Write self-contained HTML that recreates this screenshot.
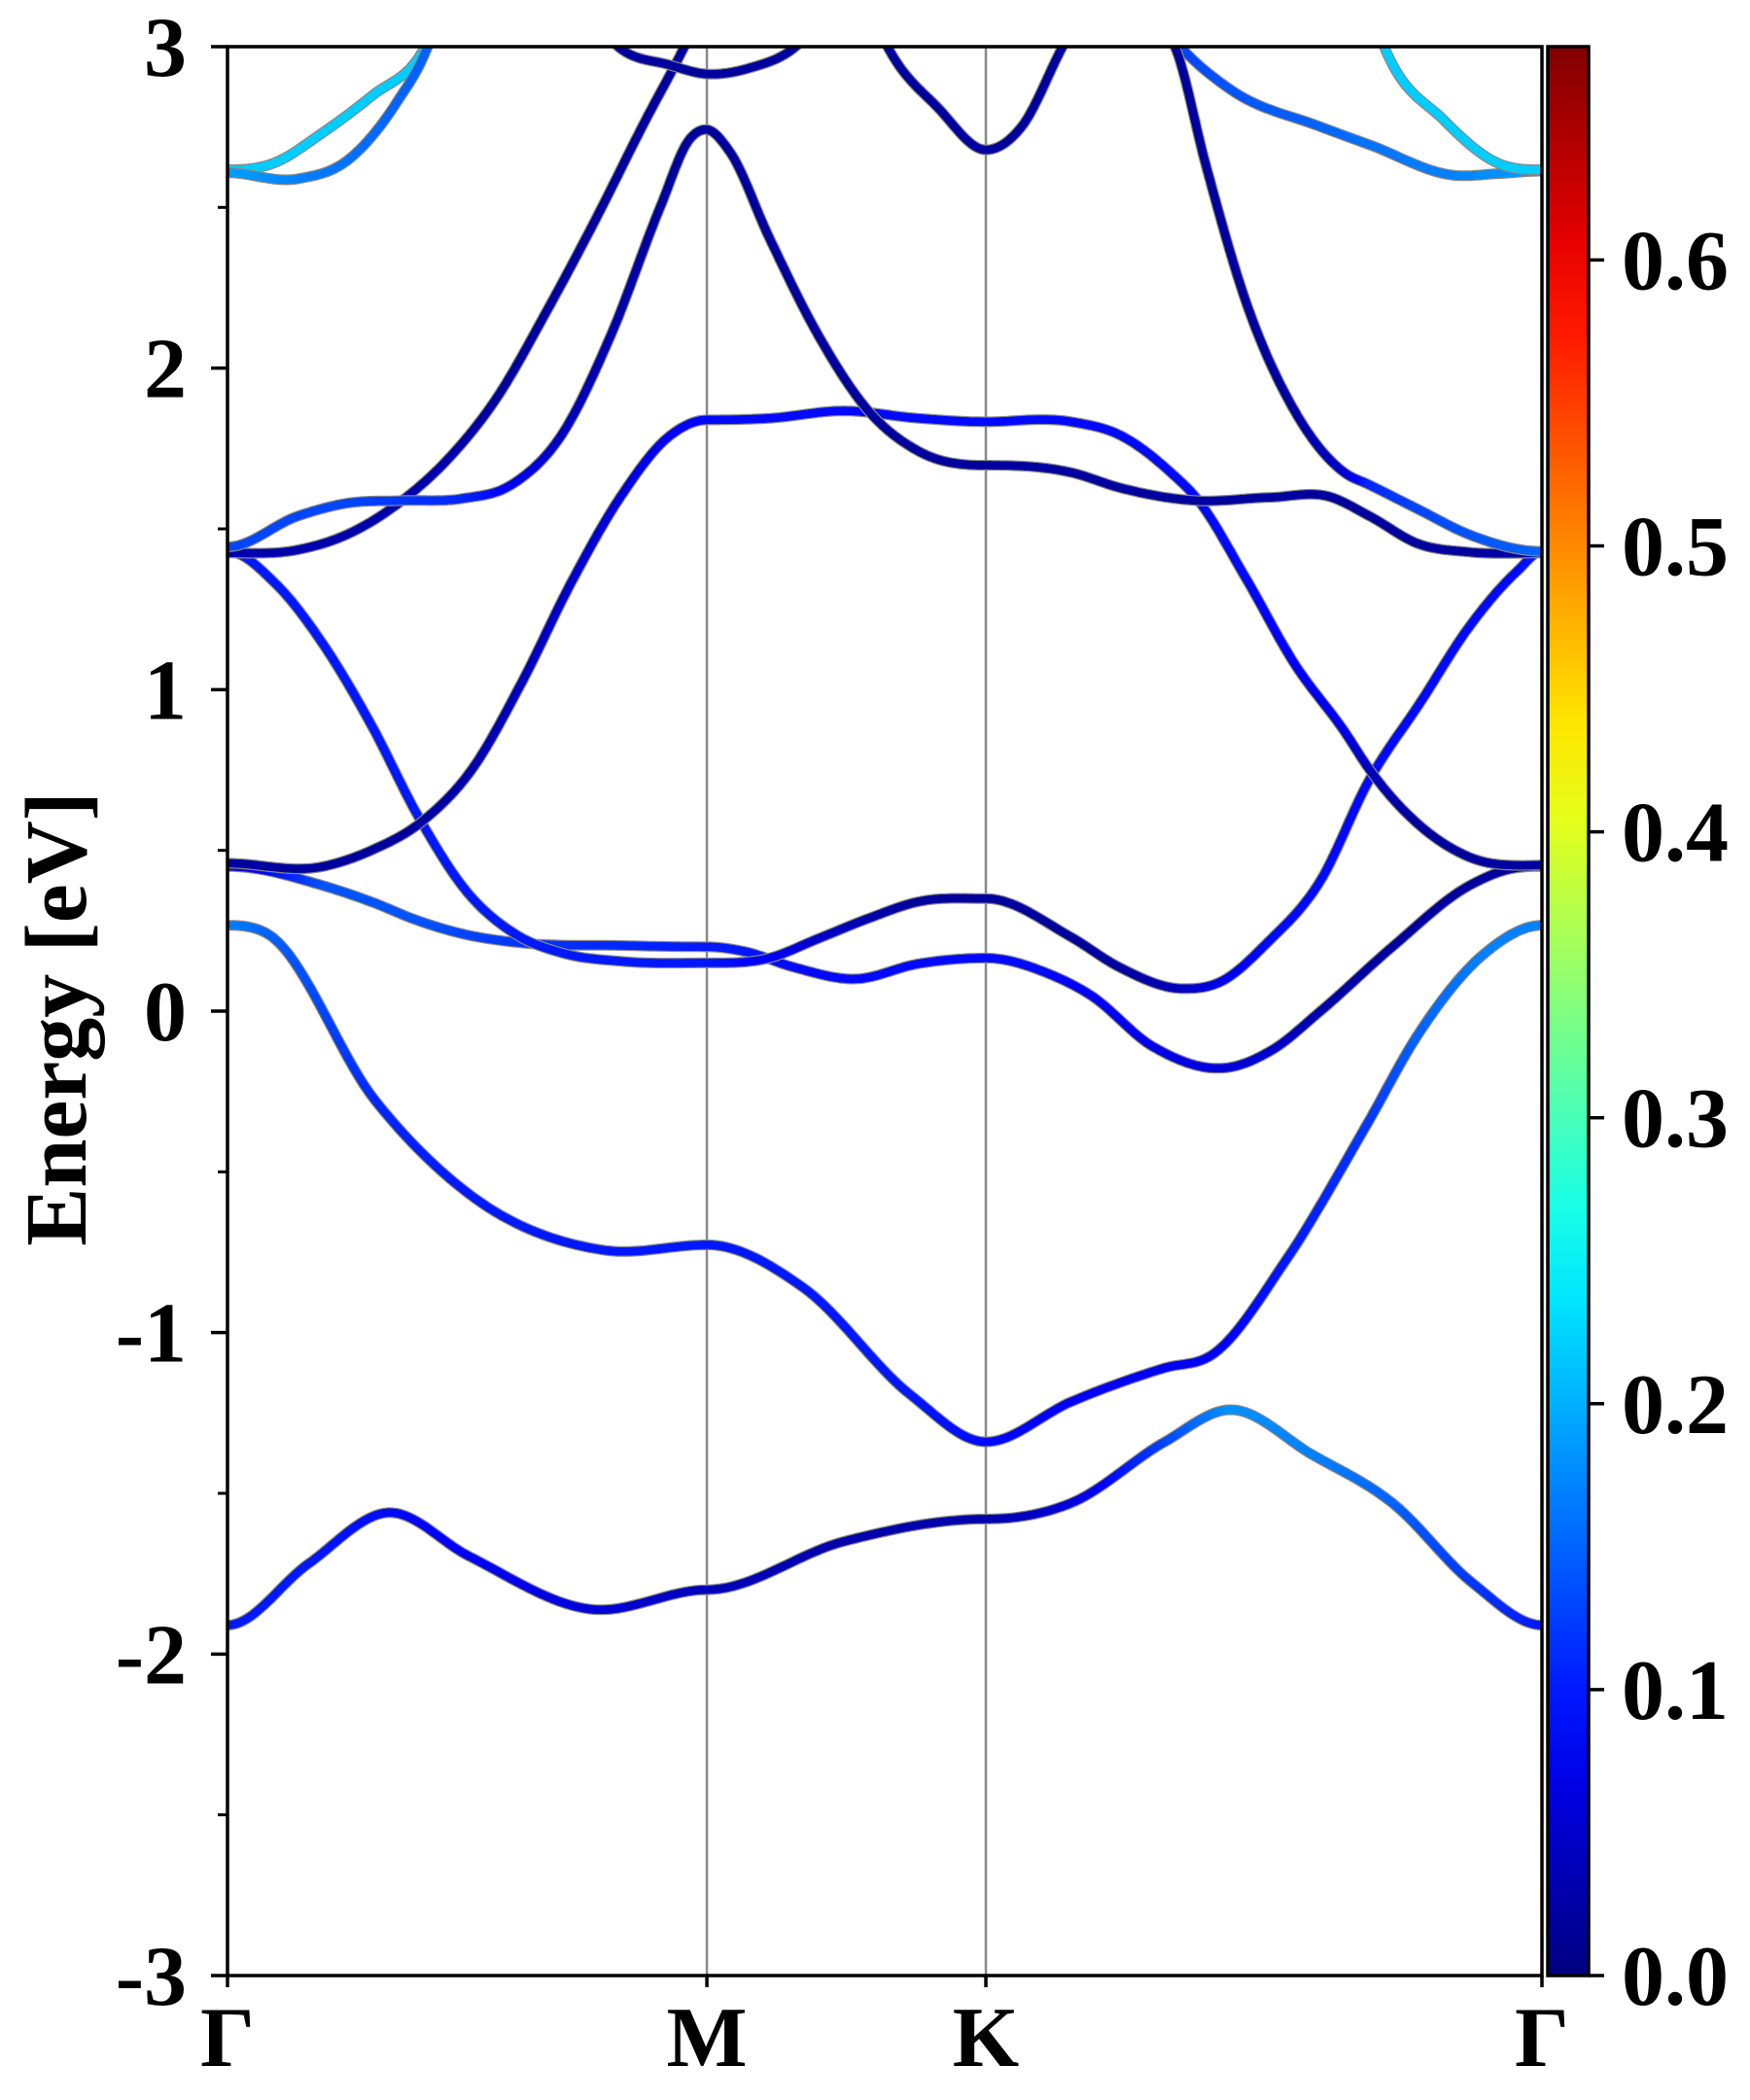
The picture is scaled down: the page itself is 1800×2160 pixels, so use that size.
<!DOCTYPE html>
<html><head><meta charset="utf-8"><style>
html,body{margin:0;padding:0;background:#fff;}
svg{display:block;}
text{font-family:"Liberation Serif",serif;font-weight:bold;fill:#000;}
</style></head><body>
<svg id="chart" width="1800" height="2160" viewBox="0 0 1800 2160"></svg>
<script>
// ---- data ----
const kLabels = ["Γ","M","K","Γ"];
const kTicks = [0, 1, 1.582, 2.742];
const yTicks = [-3,-2,-1,0,1,2,3];
const yMinor = [-2.5,-1.5,-0.5,0.5,1.5,2.5];
const cbTicks = [0.0,0.1,0.2,0.3,0.4,0.5,0.6];
const cbMax = 0.6746;

const bandA_k = [0,0.168,0.335,0.503,0.754,1.0,1.285,1.582,1.76,1.955,2.089,2.263,2.43,2.598,2.742];
const bandA_E = [-1.91,-1.72,-1.56,-1.695,-1.86,-1.80,-1.65,-1.58,-1.53,-1.34,-1.24,-1.38,-1.53,-1.78,-1.91];
const bandA_w = [0.1,0.1,0.09,0.08,0.06,0.04,0.03,0.03,0.06,0.13,0.18,0.17,0.15,0.12,0.1];

const bandB_k = [0,0.084,0.307,0.503,0.782,1.0,1.201,1.425,1.582,1.76,1.955,2.053,2.207,2.374,2.486,2.626,2.742];
const bandB_E = [0.267,0.24,-0.276,-0.568,-0.743,-0.727,-0.86,-1.194,-1.34,-1.215,-1.11,-1.07,-0.777,-0.36,-0.067,0.184,0.267];
const bandB_w = [0.17,0.15,0.11,0.1,0.1,0.1,0.1,0.1,0.09,0.08,0.08,0.08,0.1,0.12,0.15,0.17,0.17];

const bandC_k = [0,0.2,0.3,0.4,0.5,0.6,0.82,1.0,1.08,1.18,1.31,1.44,1.582,1.71,1.80,1.93,2.09,2.18,2.28,2.43,2.59,2.67,2.742];
const bandC_E = [0.45,0.39,0.34,0.28,0.237,0.214,0.204,0.2,0.185,0.137,0.10,0.147,0.165,0.118,0.05,-0.11,-0.175,-0.12,0.0,0.2,0.39,0.44,0.45];
const bandC_w = [0.05,0.14,0.14,0.14,0.13,0.12,0.11,0.1,0.1,0.09,0.09,0.09,0.09,0.09,0.08,0.07,0.06,0.05,0.03,0.02,0.02,0.02,0.02];

const bandD_k = [0,0.1,0.2,0.3,0.4,0.5,0.6,0.7,0.82,1.0,1.13,1.23,1.34,1.44,1.582,1.76,1.86,1.99,2.07,2.17,2.28,2.38,2.49,2.59,2.69,2.742];
const bandD_E = [1.43,1.33,1.14,0.89,0.60,0.37,0.24,0.18,0.155,0.15,0.165,0.224,0.29,0.34,0.35,0.23,0.137,0.07,0.09,0.214,0.406,0.714,0.964,1.195,1.368,1.43];
const bandD_w = [0.1,0.1,0.1,0.1,0.1,0.1,0.1,0.1,0.1,0.1,0.08,0.05,0.03,0.02,0.02,0.02,0.02,0.04,0.07,0.09,0.09,0.09,0.09,0.09,0.09,0.1];

const bandE_k = [0,0.2,0.3,0.406,0.509,0.613,0.716,0.82,0.923,1.0,1.13,1.285,1.441,1.582,1.761,1.864,1.968,2.02,2.123,2.226,2.33,2.382,2.485,2.589,2.742];
const bandE_E = [0.46,0.45,0.50,0.59,0.75,1.02,1.33,1.60,1.79,1.839,1.844,1.867,1.844,1.833,1.833,1.79,1.675,1.598,1.35,1.08,0.87,0.752,0.58,0.48,0.454];
const bandE_w = [0.02,0.02,0.02,0.02,0.03,0.04,0.05,0.06,0.08,0.09,0.09,0.09,0.09,0.09,0.09,0.09,0.09,0.09,0.09,0.08,0.07,0.04,0.02,0.02,0.02];

const bandF_k = [0,0.147,0.25,0.364,0.458,0.561,0.665,0.768,0.872,0.944,0.98];
const bandF_E = [1.425,1.435,1.483,1.588,1.714,1.906,2.175,2.463,2.771,2.973,3.08];
const bandF_w = [0.03,0.03,0.03,0.03,0.03,0.02,0.02,0.02,0.02,0.02,0.02];

const bandG_k = [0,0.147,0.25,0.364,0.488,0.592,0.696,0.799,0.903,0.965,1.0,1.047,1.13,1.234,1.337,1.441,1.582,1.761,1.864,2.02,2.175,2.299,2.382,2.485,2.589,2.742];
const bandG_E = [1.444,1.54,1.58,1.588,1.594,1.637,1.79,2.1,2.502,2.714,2.742,2.675,2.406,2.098,1.867,1.742,1.698,1.675,1.627,1.588,1.598,1.6,1.54,1.453,1.428,1.425];
const bandG_w = [0.13,0.13,0.13,0.12,0.11,0.08,0.04,0.03,0.02,0.02,0.02,0.02,0.02,0.02,0.02,0.02,0.02,0.02,0.02,0.02,0.02,0.02,0.02,0.02,0.02,0.03];

const bandH_k = [0.78,0.82,0.92,1.0,1.09,1.18,1.22];
const bandH_E = [3.05,2.994,2.944,2.915,2.934,2.994,3.05];
const bandH_w = [0.02,0.02,0.02,0.02,0.02,0.02,0.02];

const bandI_k = [1.96,1.988,2.092,2.278,2.382,2.558,2.651,2.742];
const bandI_E = [3.05,3.0,2.867,2.752,2.695,2.6,2.605,2.613];
const bandI_w = [0.13,0.13,0.14,0.15,0.16,0.17,0.18,0.19];

const bandJ_k = [1.96,1.978,2.04,2.123,2.226,2.33,2.382,2.485,2.589,2.742];
const bandJ_E = [3.05,2.994,2.637,2.213,1.867,1.675,1.637,1.56,1.483,1.43];
const bandJ_w = [0.02,0.02,0.02,0.02,0.02,0.05,0.11,0.13,0.14,0.15];

const bandL_k = [2.40,2.413,2.537,2.651,2.742];
const bandL_E = [3.05,3.0,2.772,2.637,2.617];
const bandL_w = [0.22,0.22,0.22,0.22,0.22];

const bandM_k = [0,0.095,0.199,0.302,0.406,0.43];
const bandM_E = [2.617,2.637,2.733,2.848,2.983,3.05];
const bandM_w = [0.22,0.22,0.22,0.22,0.22,0.22];

const bandN_k = [0,0.147,0.25,0.354,0.416,0.43];
const bandN_E = [2.608,2.589,2.646,2.829,2.994,3.05];
const bandN_w = [0.19,0.17,0.16,0.15,0.15,0.15];

const bandP_k = [1.36,1.379,1.482,1.582,1.657,1.74,1.76];
const bandP_E = [3.05,2.994,2.81,2.679,2.752,2.994,3.05];
const bandP_w = [0.02,0.02,0.02,0.02,0.02,0.02,0.02];

const bands = [
 ["band-1",bandA_k,bandA_E,bandA_w],["band-2",bandB_k,bandB_E,bandB_w],
 ["band-3",bandC_k,bandC_E,bandC_w],["band-4",bandD_k,bandD_E,bandD_w],
 ["band-5",bandE_k,bandE_E,bandE_w],["band-6",bandF_k,bandF_E,bandF_w],
 ["band-7",bandG_k,bandG_E,bandG_w],["band-8",bandH_k,bandH_E,bandH_w],
 ["band-9",bandI_k,bandI_E,bandI_w],["band-10",bandJ_k,bandJ_E,bandJ_w],
 ["band-11",bandL_k,bandL_E,bandL_w],["band-12",bandM_k,bandM_E,bandM_w],
 ["band-13",bandN_k,bandN_E,bandN_w],["band-14",bandP_k,bandP_E,bandP_w]
];

// ---- layout ----
const X0=234, X1=1586, Y0=48, Y1=2032;
const kMax = 2.742;
const xS = k => X0 + (k/kMax)*(X1-X0);
const yS = E => Y0 + (3-E)/6*(Y1-Y0);
const CBX0=1592, CBX1=1634;
const cbY = v => Y1 - (v/cbMax)*(Y1-Y0);

function jet(t){
  t=Math.max(0,Math.min(1,t));
  const r=Math.max(0,Math.min(1,1.5-Math.abs(4*t-3)));
  const g=Math.max(0,Math.min(1,1.5-Math.abs(4*t-2)));
  const b=Math.max(0,Math.min(1,1.5-Math.abs(4*t-1)));
  return `rgb(${Math.round(r*255)},${Math.round(g*255)},${Math.round(b*255)})`;
}
const NS="http://www.w3.org/2000/svg";
const svg=document.getElementById('chart');
function mk(tag,attrs,parent){const e=document.createElementNS(NS,tag);for(const a in attrs)e.setAttribute(a,attrs[a]);(parent||svg).appendChild(e);return e;}

const defs=mk('defs',{});
const cp=mk('clipPath',{id:'plotclip'},defs);
mk('rect',{x:X0,y:Y0,width:X1-X0,height:Y1-Y0},cp);
const grad=mk('linearGradient',{id:'jetgrad',x1:0,y1:1,x2:0,y2:0},defs);
for(let i=0;i<=20;i++){mk('stop',{offset:(i/20),'stop-color':jet(i/20)},grad);}

for(let i=1;i<kTicks.length-1;i++){
  const l=mk('line',{x1:xS(kTicks[i]),x2:xS(kTicks[i]),y1:Y0,y2:Y1,stroke:'#888','stroke-width':2.5});
  
  
}

const bandLayer=mk('g',{'clip-path':'url(#plotclip)'});


function isSym(k){return kTicks.some(t=>Math.abs(t-k)<0.003);}
function spline(ks,Es,ws){
  const n=ks.length, m=[];
  for(let i=0;i<n;i++){
    if(isSym(ks[i]) && !(i>0&&i<n-1&&Math.abs(ks[i]-1)<0.003&&Es[i]>2.7)){ m.push(0); continue; }
    if(i===0){m.push((Es[1]-Es[0])/(ks[1]-ks[0]));continue;}
    if(i===n-1){m.push((Es[n-1]-Es[n-2])/(ks[n-1]-ks[n-2]));continue;}
    const d0=(Es[i]-Es[i-1])/(ks[i]-ks[i-1]), d1=(Es[i+1]-Es[i])/(ks[i+1]-ks[i]);
    const h0=ks[i]-ks[i-1], h1=ks[i+1]-ks[i];
    m.push((d0*h1+d1*h0)/(h0+h1));
  }
  const pts=[];
  for(let i=0;i<n-1;i++){
    const h=ks[i+1]-ks[i], steps=20;
    for(let s=0;s<steps;s++){
      const t=s/steps,t2=t*t,t3=t2*t;
      const E=(2*t3-3*t2+1)*Es[i]+(t3-2*t2+t)*h*m[i]+(-2*t3+3*t2)*Es[i+1]+(t3-t2)*h*m[i+1];
      pts.push([ks[i]+t*h,E,ws[i]+(ws[i+1]-ws[i])*t]);
    }
  }
  pts.push([ks[n-1],Es[n-1],ws[n-1]]);
  return pts;
}
bands.forEach(b=>{
  const g=mk('g',{},bandLayer);
  
  
  const pts=spline(b[1],b[2],b[3]);
  let d='';
  pts.forEach((p,i)=>{d+=(i?'L':'M')+xS(p[0]).toFixed(1)+' '+yS(p[1]).toFixed(1);});
  mk('path',{d:d,fill:'none',stroke:'#888','stroke-width':11,'stroke-linecap':'round','stroke-linejoin':'round'},g);
  for(let i=0;i<pts.length-1;i++){
    mk('line',{x1:xS(pts[i][0]).toFixed(1),y1:yS(pts[i][1]).toFixed(1),x2:xS(pts[i+1][0]).toFixed(1),y2:yS(pts[i+1][1]).toFixed(1),
      stroke:jet(pts[i][2]/cbMax),'stroke-width':8.5,'stroke-linecap':'round'},g);
  }
});

const frame=mk('rect',{x:X0,y:Y0,width:X1-X0,height:Y1-Y0,fill:'none',stroke:'#000','stroke-width':3.5});



yTicks.forEach(v=>{
  const y=yS(v);
  const t=mk('line',{x1:X0-17,x2:X0,y1:y,y2:y,stroke:'#000','stroke-width':3.5});
  
  
  const tx=mk('text',{x:192,y:y+30,'text-anchor':'end','font-size':88});
  tx.textContent=String(v);
  
  
});
yMinor.forEach(v=>{
  const y=yS(v);
  const t=mk('line',{x1:X0-10,x2:X0,y1:y,y2:y,stroke:'#000','stroke-width':3});
  
  
});
kTicks.forEach((k,i)=>{
  const x=xS(k);
  const t=mk('line',{x1:x,x2:x,y1:Y1,y2:Y1+12,stroke:'#000','stroke-width':3.5});
  
  
  const tx=mk('text',{x:x,y:2125,'text-anchor':'middle','font-size':88});
  tx.textContent=kLabels[i];
  
  
});
const yt=mk('text',{x:0,y:0,'text-anchor':'middle','font-size':90,transform:'translate(88,1048) rotate(-90)'});
yt.textContent='Energy [eV]';



const cb=mk('rect',{x:CBX0,y:Y0,width:CBX1-CBX0,height:Y1-Y0,fill:'url(#jetgrad)',stroke:'#000','stroke-width':3.5});


cbTicks.forEach(v=>{
  const y=cbY(v);
  const t=mk('line',{x1:CBX1,x2:CBX1+16,y1:y,y2:y,stroke:'#000','stroke-width':3.5});
  
  
  const tx=mk('text',{x:1668,y:y+30,'font-size':88});
  tx.textContent=v.toFixed(1);
  
  
});
</script>
</body></html>
